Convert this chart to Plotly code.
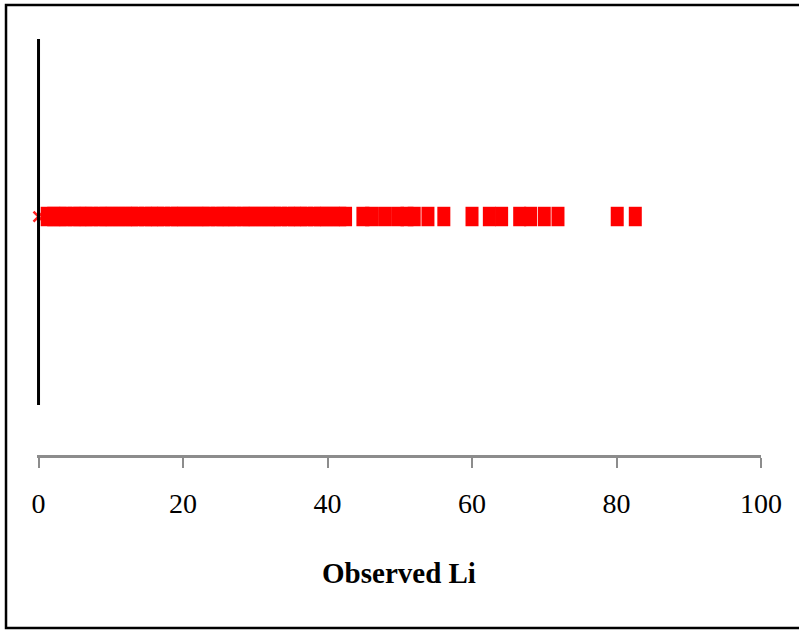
import plotly.graph_objects as go

# Observed Li values (x) plotted on a single strip
observed_li = [1.2, 2.1, 3.0, 3.8, 4.9, 5.7, 6.6, 7.4, 8.5, 9.3, 10.2, 11.1, 12.0, 12.9,
               13.7, 14.8, 15.6, 16.5, 17.3, 18.4, 19.2, 20.1, 21.0, 21.9, 22.8, 23.6,
               24.7, 25.5, 26.4, 27.2, 28.3, 29.1, 30.0, 30.9, 31.8, 32.7, 33.5, 34.6,
               35.4, 36.3, 37.1, 38.2, 39.0, 39.9, 40.8, 41.7, 42.5,
               44.9, 46.1, 47.9, 49.7, 51.0, 52.0, 53.9, 56.1,
               60.0, 62.4, 64.1, 66.6, 68.1, 70.0, 71.9, 80.1, 82.6]
strip_level = [0.515] * len(observed_li)

# reference point marked with an x
ref_x = [0]
ref_y = [0.515]

# vertical reference line
line_x = [0, 0]
line_y = [0, 1]

x_ticks = [0, 20, 40, 60, 80, 100]

FONT = "Liberation Serif, Times New Roman, serif"

fig = go.Figure()

fig.add_trace(go.Scatter(
    x=ref_x, y=ref_y, mode="markers", cliponaxis=False,
    marker=dict(symbol="x-thin", size=10, color="#ff2020",
                line=dict(color="#ff2020", width=2.5)),
    showlegend=False, hoverinfo="skip"))

fig.add_trace(go.Scatter(
    x=line_x, y=line_y, mode="lines", cliponaxis=False,
    line=dict(color="black", width=3),
    showlegend=False, hoverinfo="skip"))

fig.add_trace(go.Scatter(
    x=observed_li, y=strip_level, mode="markers", cliponaxis=False,
    marker=dict(symbol="line-ns", size=13.9, color="#ff0000",
                line=dict(color="#ff0000", width=13)),
    showlegend=False))

fig.update_layout(
    width=799, height=630,
    margin=dict(l=37, r=38, t=30, b=175),
    paper_bgcolor="white", plot_bgcolor="white",
    font=dict(family=FONT, color="black"),
    xaxis=dict(
        range=[-0.21, 100], tickvals=x_ticks, ticktext=[str(v) for v in x_ticks],
        showgrid=False, zeroline=False,
        showline=True, linecolor="#8c8c8c", linewidth=2.5,
        ticks="outside", ticklen=10, tickwidth=2, tickcolor="#8c8c8c",
        tickfont=dict(size=28, family=FONT, color="black"),
        ticklabelstandoff=12,
        title=dict(text="<b>Observed Li</b>", standoff=45,
                   font=dict(size=29, family=FONT, color="black")),
    ),
    yaxis=dict(range=[-0.1366, 1.0246], visible=False, showgrid=False, zeroline=False),
    shapes=[dict(type="rect", xref="paper", yref="paper",
                 x0=-0.0428, x1=1.07, y0=-0.407, y1=1.0588,
                 line=dict(color="black", width=2.5), fillcolor="rgba(0,0,0,0)",
                 layer="below")],
)

fig.write_html("out.html", config={"displayModeBar": False},
               post_script="document.body.style.margin='0px';document.body.style.overflow='hidden';")
